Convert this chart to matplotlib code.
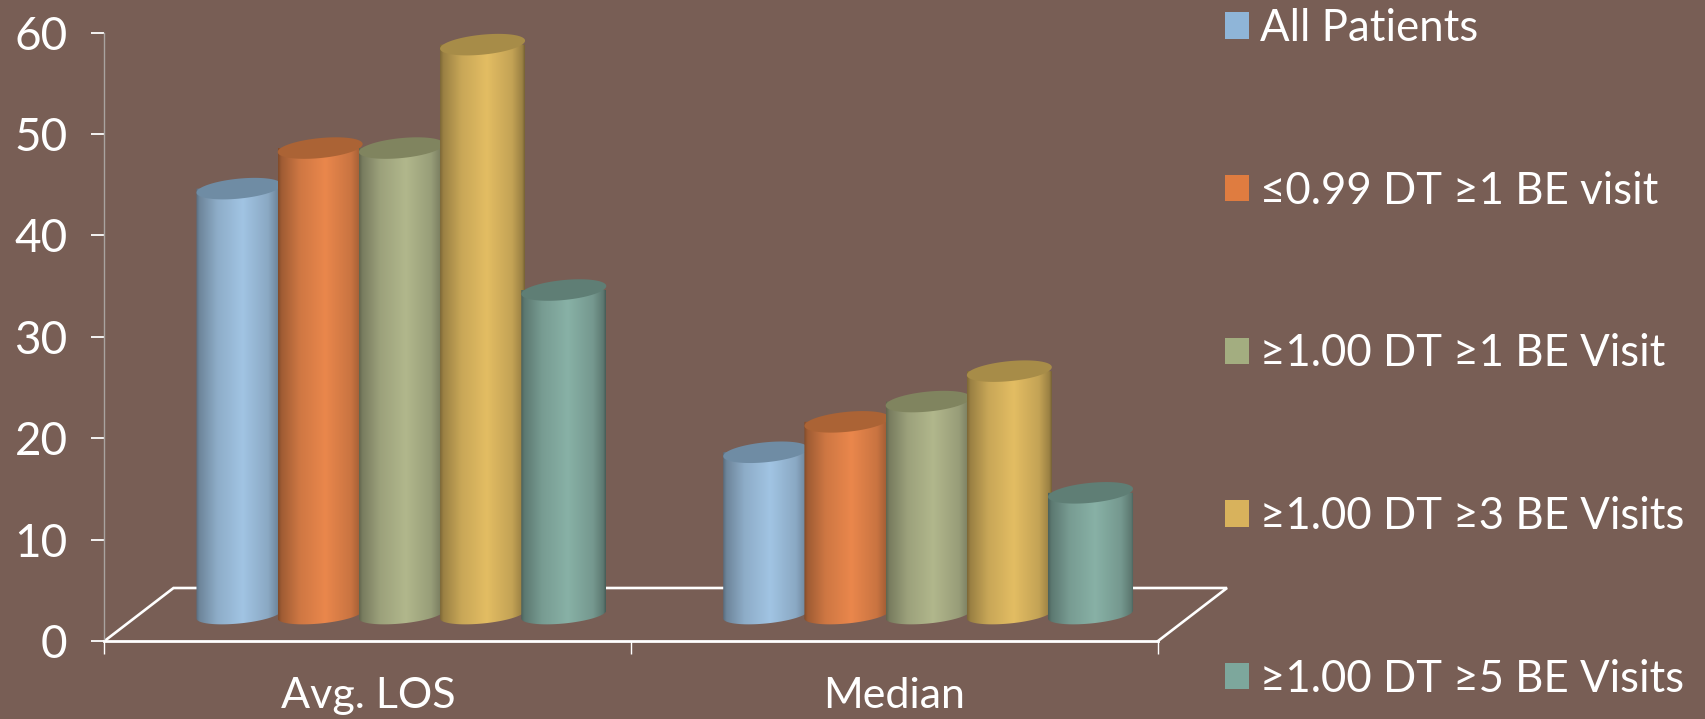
import numpy as np
import matplotlib
matplotlib.use("Agg")
import matplotlib.pyplot as plt
from matplotlib.colors import LinearSegmentedColormap, to_rgb
from matplotlib.patches import Patch, PathPatch
from matplotlib.path import Path

categories = ["Avg. LOS", "Median"]
series = ["All Patients", "≤0.99 DT ≥1 BE visit", "≥1.00 DT ≥1 BE Visit",
          "≥1.00 DT ≥3 BE Visits", "≥1.00 DT ≥5 BE Visits"]
all_patients = [42, 16]
low_dt_one = [46, 19]
high_dt_one = [46, 21]
high_dt_three = [56.2, 24]
high_dt_five = [32, 12]
yticks = [0, 10, 20, 30, 40, 50, 60]

values = [all_patients, low_dt_one, high_dt_one, high_dt_three, high_dt_five]
light = ["#A1C4E3", "#EA874C", "#B1B78C", "#E3BD63", "#88B1A6"]
tops = ["#6F8CA4", "#AB6335", "#80845F", "#A78C48", "#5F7E75"]
swatches = ["#8FB5D8", "#DF7C40", "#A3AD80", "#D8B25C", "#7DA79C"]
bg = "#785E55"

W, H = 1706, 719
plt.rcParams['font.family'] = ['Lato', 'DejaVu Sans']

fig = plt.figure(figsize=(W / 100, H / 100), dpi=100, facecolor=bg)
ax = fig.add_axes([104.5 / W, (H - 641) / H, 1053.5 / W, 608.4 / H], facecolor=bg)

# pixel sizes in data units
px = 2 / 1053.5
py = 60 / 608.4
depth_x = 69 * px
depth_y = 53 * py
pitch = 81.2 * px
bar_w = 85 * px
base_b = 9 * py
top_b = 10 * py
tilt = 4 * py


def ellipse(cx, cy, t, b):
    return (cx + bar_w / 2 * np.cos(t),
            cy + b * np.sin(t) + tilt * np.cos(t))


# floor
ax.plot([0, depth_x, 2 + depth_x, 2], [0, depth_y, depth_y, 0], color="white", lw=1.9,
        clip_on=False, zorder=1, solid_joinstyle="miter")

shade_pos = [0, 0.04, 0.25, 0.55, 0.85, 0.97, 1]
shade_val = [0.55, 0.68, 0.88, 1, 0.86, 0.68, 0.52]
grad = np.linspace(0, 1, 256).reshape(1, -1)
z = 2
for g in range(len(categories)):
    for i, vals in enumerate(values):
        cx = g + 0.5 + depth_x / 2 + (i - 2) * pitch - px
        base = depth_y / 2
        top = base + vals[g]
        col = np.array(to_rgb(light[i]))
        cmap = LinearSegmentedColormap.from_list(
            "c", [(p, tuple(col * s)) for p, s in zip(shade_pos, shade_val)])
        # body: from the top edge, round the lower half of the base ellipse
        t_low = np.linspace(np.pi, 2 * np.pi, 60)
        xb, yb = ellipse(cx, base, t_low, base_b)
        verts = list(zip(xb, yb)) + [(cx + bar_w / 2, top), (cx - bar_w / 2, top), (xb[0], yb[0])]
        clip = PathPatch(Path(verts), transform=ax.transData, fc="none", ec="none")
        ax.add_patch(clip)
        im = ax.imshow(grad, extent=[cx - bar_w / 2, cx + bar_w / 2, base - 2 * base_b, top + 2 * top_b],
                       aspect="auto", cmap=cmap, zorder=z, interpolation="bilinear")
        im.set_clip_path(clip)
        t_all = np.linspace(0, 2 * np.pi, 100)
        xt, yt = ellipse(cx, top, t_all, top_b)
        ax.fill(xt, yt, color=tops[i], lw=0, zorder=z + 0.5)
        z += 1

ax.set_xlim(0, 2)
ax.set_ylim(0, 60)
for s in ["top", "right"]:
    ax.spines[s].set_visible(False)
ax.spines["left"].set_color("#A9A3A0")
ax.spines["left"].set_linewidth(1)
ax.spines["bottom"].set_color("white")
ax.spines["bottom"].set_linewidth(2)

ax.set_yticks(yticks)
ax.tick_params(axis="y", colors="white", labelsize=33, length=9.5, width=1.3, pad=17)
ax.set_xticks([0, 1, 2])
ax.set_xticklabels([])
ax.set_xticks([0.5, 1.5], minor=True)
ax.set_xticklabels(categories, minor=True)
ax.tick_params(axis="x", which="major", colors="white", length=9.5, width=1)
ax.tick_params(axis="x", which="minor", colors="white", labelsize=31, length=0, pad=26)

handles = [Patch(facecolor=c, edgecolor="none") for c in swatches]
fig.legend(handles, series, loc="upper left", bbox_to_anchor=(1225 / W, 1 - 8 / H),
           bbox_transform=fig.transFigure, frameon=False, fontsize=31.5, labelcolor="white",
           handlelength=0.55, handleheight=0.55, handletextpad=0.25, labelspacing=2.78,
           borderpad=0, borderaxespad=0)

fig.savefig("out.png", dpi=100, facecolor=bg)
